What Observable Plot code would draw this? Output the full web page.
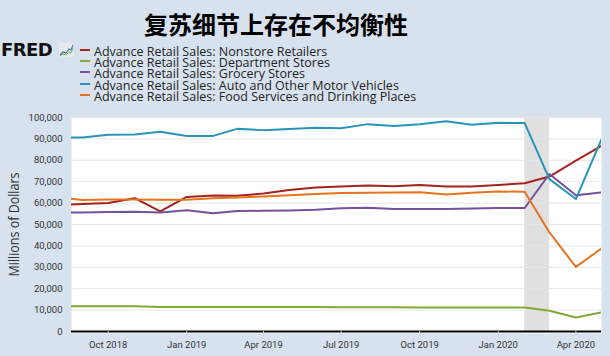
<!DOCTYPE html>
<html>
<head>
<meta charset="utf-8">
<script src="https://cdn.jsdelivr.net/npm/d3@7"></script>
<script src="https://cdn.jsdelivr.net/npm/@observablehq/plot@0.6"></script>
<style>
  body { margin: 0; background: #d7e2ee; width: 610px; height: 356px; overflow: hidden; }
  #hdr { position: relative; height: 105px; }
  #title { position: absolute; left: 0; width: 552px; top: 10px; text-align: center;
           font: 700 24px "Noto Sans CJK SC"; color: #000; line-height: 28px; }
  #logo { position: absolute; left: 1px; top: 39px; font: 700 18px "DejaVu Sans"; letter-spacing: -0.6px; color: #111; line-height: 21px; }
  #icon { position: absolute; left: 59px; top: 43px; }
  .leg { position: absolute; left: 80px; height: 11px; white-space: nowrap; }
  .sw { position: absolute; left: 0; top: 3px; width: 10px; height: 2px; }
  .lt { position: absolute; left: 14px; top: 0px; font: 12.5px "Open Sans"; color: #222; line-height: 11px; }
</style>
</head>
<body>
<div id="hdr">
  <div id="title">复苏细节上存在不均衡性</div>
  <div id="logo">FRED</div>
  <svg id="icon" width="15" height="14" viewBox="0 0 15 14">
    <rect x="0" y="0" width="15" height="14" fill="#e6eaed"/>
    <polyline points="1,12 4,9 7,10 10,6 12,7 14,2" fill="none" stroke="#3d7bb0" stroke-width="1.2"/>
    <polyline points="1,13 4,11 7,12 10,9 12,10 14,5" fill="none" stroke="#7ab04a" stroke-width="1"/>
  </svg>
  <div id="legend"></div>
</div>
<div id="chart"></div>
<script>
const seriesNames = [
  "Advance Retail Sales: Nonstore Retailers",
  "Advance Retail Sales: Department Stores",
  "Advance Retail Sales: Grocery Stores",
  "Advance Retail Sales: Auto and Other Motor Vehicles",
  "Advance Retail Sales: Food Services and Drinking Places"
];
const seriesColors = ["#a3241f", "#7fab35", "#73519c", "#2a93b8", "#e8731e"];

const months = ["2018-08-01","2018-09-01","2018-10-01","2018-11-01","2018-12-01",
  "2019-01-01","2019-02-01","2019-03-01","2019-04-01","2019-05-01","2019-06-01",
  "2019-07-01","2019-08-01","2019-09-01","2019-10-01","2019-11-01","2019-12-01",
  "2020-01-01","2020-02-01","2020-03-01","2020-04-01","2020-05-01"];

const nonstore   = [58900,59600,60000,62300,56100,62900,63600,63400,64500,66100,67300,67800,68200,67900,68500,67800,67800,68500,69300,72400,79800,86800];
const department = [11700,11800,11800,11800,11500,11400,11400,11500,11500,11400,11400,11300,11300,11300,11200,11200,11200,11200,11200,9700,6500,8900];
const grocery    = [55600,55600,55800,55900,55600,56700,55300,56300,56400,56600,56900,57600,57800,57300,57200,57300,57500,57700,57700,73600,63700,65000];
const auto       = [90600,90700,91900,92100,93300,91400,91400,94700,94100,94600,95200,95000,96900,96000,96900,98300,96600,97500,97400,71200,61900,89900];
const food       = [62800,61400,61700,61700,61600,61600,62300,62600,63100,63700,64200,64700,64800,65000,65100,64000,64800,65400,65300,46300,30200,38800];

const recessionStart = ["2020-02-01"];
const recessionEnd   = ["2020-03-01"];

const yTicks = [0,10000,20000,30000,40000,50000,60000,70000,80000,90000,100000];
const xTickDates = ["2018-10-01","2019-01-01","2019-04-01","2019-07-01","2019-10-01","2020-01-01","2020-04-01"];
const xDomain = ["2018-08-19","2020-05-01"];
const yLabel = "Millions of Dollars";

const allSeries = [nonstore, department, grocery, auto, food];
const data = [];
allSeries.forEach((vals, i) => vals.forEach((v, j) =>
  data.push({date: new Date(months[j]), value: v, series: seriesNames[i]})));
const recessions = recessionStart.map((s, i) => ({start: new Date(s), end: new Date(recessionEnd[i])}));

// legend
const leg = document.getElementById("legend");
seriesNames.forEach((name, i) => {
  const d = document.createElement("div");
  d.className = "leg";
  d.style.top = (46 + i * 11.2) + "px";
  d.innerHTML = `<div class="sw" style="background:${seriesColors[i]}"></div><div class="lt">${name}</div>`;
  leg.appendChild(d);
});

const chart = Plot.plot({
  width: 610,
  height: 251,
  marginLeft: 71,
  marginRight: 9,
  marginTop: 12,
  marginBottom: 25,
  style: {background: "transparent", fontFamily: "Roboto", fontSize: "9.5px", color: "#333", overflow: "visible"},
  x: {type: "utc", domain: xDomain.map(d => new Date(d)), axis: null},
  y: {domain: [0, 100000], axis: null},
  color: {domain: seriesNames, range: seriesColors},
  marks: [
    Plot.frame({fill: "white", stroke: null, insetBottom: -2}),
    Plot.rect(recessions, {x1: "start", x2: "end", y1: () => 0, y2: () => 100000, fill: "#e0e0e0"}),
    Plot.gridY(yTicks.filter(t => t > 0), {stroke: "#e6e6e6", strokeOpacity: 1}),
    Plot.line(data, {x: "date", y: "value", z: "series", stroke: "series", strokeWidth: 2, clip: true}),
    Plot.ruleY([0], {stroke: "#000", strokeWidth: 2}),
    Plot.axisY({ticks: yTicks, tickFormat: d3.format(","), tickSize: 0, tickPadding: 9, fill: "#333", fontSize: 9.5, label: null}),
    Plot.axisX({ticks: xTickDates.map(d => new Date(d)), tickFormat: d3.utcFormat("%b %Y"),
                tickSize: 5, tickPadding: 5, stroke: "#ccd6eb", fill: "#333", fontSize: 9.5, label: null}),
    Plot.text([yLabel], {text: d => d, frameAnchor: "left", dx: -57, rotate: -90, textAnchor: "middle",
                fontSize: 14, fill: "#333", fontFamily: "Open Sans", className: "ylab"})
  ]
});
document.getElementById("chart").appendChild(chart);
chart.querySelectorAll(".ylab text").forEach(t => {
  t.setAttribute("textLength", 104);
  t.setAttribute("lengthAdjust", "spacingAndGlyphs");
});
</script>
</body>
</html>
